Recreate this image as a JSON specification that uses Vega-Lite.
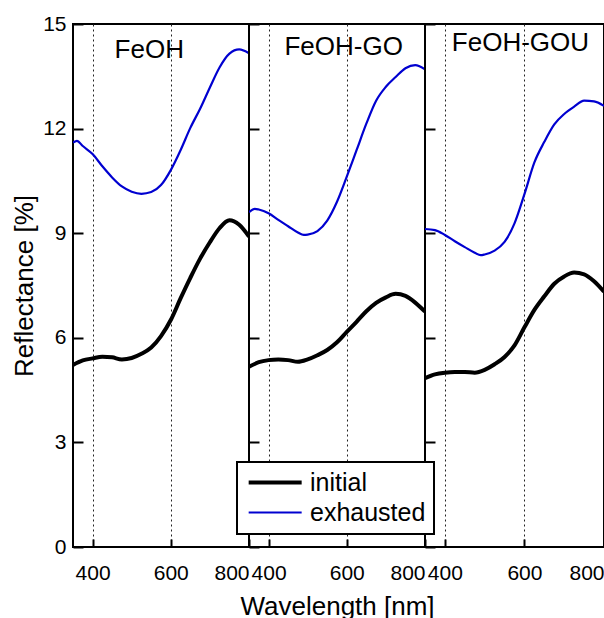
{
  "$schema": "https://vega.github.io/schema/vega-lite/v6.json",
  "padding": {"left": 10, "top": 12, "right": 0, "bottom": 0},
  "spacing": 0,
  "bounds": "flush",
  "config": {
    "font": "Liberation Sans",
    "view": {"stroke": "black", "strokeWidth": 2},
    "axis": {"labelFont": "Liberation Sans", "labelFontSize": 21, "labelColor": "black", "titleFont": "Liberation Sans", "titleFontSize": 26, "titleFontWeight": "normal", "titleColor": "black", "tickColor": "black", "tickWidth": 2, "domain": false, "labelOverlap": false},
    "legend": {"strokeWidth": 2}
  },
  "resolve": {"scale": {"y": "shared", "x": "independent", "color": "shared", "strokeWidth": "shared"}, "legend": {"color": "shared", "strokeWidth": "shared"}},
  "datasets": {
    "spectra": [
      {"panel": "FeOH", "series": "exhausted", "wl": 350, "r": 11.60},
      {"panel": "FeOH", "series": "exhausted", "wl": 360, "r": 11.65},
      {"panel": "FeOH", "series": "exhausted", "wl": 375, "r": 11.50},
      {"panel": "FeOH", "series": "exhausted", "wl": 400, "r": 11.27},
      {"panel": "FeOH", "series": "exhausted", "wl": 425, "r": 10.92},
      {"panel": "FeOH", "series": "exhausted", "wl": 450, "r": 10.60},
      {"panel": "FeOH", "series": "exhausted", "wl": 475, "r": 10.34},
      {"panel": "FeOH", "series": "exhausted", "wl": 500, "r": 10.19},
      {"panel": "FeOH", "series": "exhausted", "wl": 525, "r": 10.13},
      {"panel": "FeOH", "series": "exhausted", "wl": 550, "r": 10.18},
      {"panel": "FeOH", "series": "exhausted", "wl": 575, "r": 10.38},
      {"panel": "FeOH", "series": "exhausted", "wl": 600, "r": 10.81},
      {"panel": "FeOH", "series": "exhausted", "wl": 625, "r": 11.38},
      {"panel": "FeOH", "series": "exhausted", "wl": 650, "r": 12.02},
      {"panel": "FeOH", "series": "exhausted", "wl": 675, "r": 12.57},
      {"panel": "FeOH", "series": "exhausted", "wl": 700, "r": 13.18},
      {"panel": "FeOH", "series": "exhausted", "wl": 725, "r": 13.76},
      {"panel": "FeOH", "series": "exhausted", "wl": 750, "r": 14.15},
      {"panel": "FeOH", "series": "exhausted", "wl": 775, "r": 14.27},
      {"panel": "FeOH", "series": "exhausted", "wl": 800, "r": 14.16},
      {"panel": "FeOH", "series": "initial", "wl": 350, "r": 5.22},
      {"panel": "FeOH", "series": "initial", "wl": 375, "r": 5.35},
      {"panel": "FeOH", "series": "initial", "wl": 400, "r": 5.41},
      {"panel": "FeOH", "series": "initial", "wl": 425, "r": 5.46},
      {"panel": "FeOH", "series": "initial", "wl": 450, "r": 5.44},
      {"panel": "FeOH", "series": "initial", "wl": 475, "r": 5.38},
      {"panel": "FeOH", "series": "initial", "wl": 500, "r": 5.42},
      {"panel": "FeOH", "series": "initial", "wl": 525, "r": 5.54},
      {"panel": "FeOH", "series": "initial", "wl": 550, "r": 5.72},
      {"panel": "FeOH", "series": "initial", "wl": 575, "r": 6.05},
      {"panel": "FeOH", "series": "initial", "wl": 600, "r": 6.51},
      {"panel": "FeOH", "series": "initial", "wl": 625, "r": 7.13},
      {"panel": "FeOH", "series": "initial", "wl": 650, "r": 7.72},
      {"panel": "FeOH", "series": "initial", "wl": 675, "r": 8.27},
      {"panel": "FeOH", "series": "initial", "wl": 700, "r": 8.74},
      {"panel": "FeOH", "series": "initial", "wl": 725, "r": 9.15},
      {"panel": "FeOH", "series": "initial", "wl": 750, "r": 9.37},
      {"panel": "FeOH", "series": "initial", "wl": 775, "r": 9.24},
      {"panel": "FeOH", "series": "initial", "wl": 800, "r": 8.90},
      {"panel": "FeOH-GO", "series": "exhausted", "wl": 350, "r": 9.60},
      {"panel": "FeOH-GO", "series": "exhausted", "wl": 365, "r": 9.70},
      {"panel": "FeOH-GO", "series": "exhausted", "wl": 375, "r": 9.68},
      {"panel": "FeOH-GO", "series": "exhausted", "wl": 400, "r": 9.57},
      {"panel": "FeOH-GO", "series": "exhausted", "wl": 425, "r": 9.38},
      {"panel": "FeOH-GO", "series": "exhausted", "wl": 450, "r": 9.20},
      {"panel": "FeOH-GO", "series": "exhausted", "wl": 475, "r": 9.02},
      {"panel": "FeOH-GO", "series": "exhausted", "wl": 490, "r": 8.95},
      {"panel": "FeOH-GO", "series": "exhausted", "wl": 500, "r": 8.96},
      {"panel": "FeOH-GO", "series": "exhausted", "wl": 525, "r": 9.06},
      {"panel": "FeOH-GO", "series": "exhausted", "wl": 550, "r": 9.36},
      {"panel": "FeOH-GO", "series": "exhausted", "wl": 575, "r": 9.90},
      {"panel": "FeOH-GO", "series": "exhausted", "wl": 600, "r": 10.62},
      {"panel": "FeOH-GO", "series": "exhausted", "wl": 625, "r": 11.38},
      {"panel": "FeOH-GO", "series": "exhausted", "wl": 650, "r": 12.14},
      {"panel": "FeOH-GO", "series": "exhausted", "wl": 675, "r": 12.80},
      {"panel": "FeOH-GO", "series": "exhausted", "wl": 700, "r": 13.20},
      {"panel": "FeOH-GO", "series": "exhausted", "wl": 725, "r": 13.48},
      {"panel": "FeOH-GO", "series": "exhausted", "wl": 750, "r": 13.73},
      {"panel": "FeOH-GO", "series": "exhausted", "wl": 775, "r": 13.82},
      {"panel": "FeOH-GO", "series": "exhausted", "wl": 800, "r": 13.70},
      {"panel": "FeOH-GO", "series": "initial", "wl": 350, "r": 5.17},
      {"panel": "FeOH-GO", "series": "initial", "wl": 375, "r": 5.30},
      {"panel": "FeOH-GO", "series": "initial", "wl": 400, "r": 5.36},
      {"panel": "FeOH-GO", "series": "initial", "wl": 425, "r": 5.38},
      {"panel": "FeOH-GO", "series": "initial", "wl": 450, "r": 5.36},
      {"panel": "FeOH-GO", "series": "initial", "wl": 475, "r": 5.31},
      {"panel": "FeOH-GO", "series": "initial", "wl": 500, "r": 5.38},
      {"panel": "FeOH-GO", "series": "initial", "wl": 525, "r": 5.50},
      {"panel": "FeOH-GO", "series": "initial", "wl": 550, "r": 5.65},
      {"panel": "FeOH-GO", "series": "initial", "wl": 575, "r": 5.87},
      {"panel": "FeOH-GO", "series": "initial", "wl": 600, "r": 6.17},
      {"panel": "FeOH-GO", "series": "initial", "wl": 625, "r": 6.46},
      {"panel": "FeOH-GO", "series": "initial", "wl": 650, "r": 6.76},
      {"panel": "FeOH-GO", "series": "initial", "wl": 675, "r": 7.00},
      {"panel": "FeOH-GO", "series": "initial", "wl": 700, "r": 7.16},
      {"panel": "FeOH-GO", "series": "initial", "wl": 725, "r": 7.26},
      {"panel": "FeOH-GO", "series": "initial", "wl": 750, "r": 7.20},
      {"panel": "FeOH-GO", "series": "initial", "wl": 775, "r": 7.01},
      {"panel": "FeOH-GO", "series": "initial", "wl": 800, "r": 6.75},
      {"panel": "FeOH-GOU", "series": "exhausted", "wl": 350, "r": 9.12},
      {"panel": "FeOH-GOU", "series": "exhausted", "wl": 375, "r": 9.09},
      {"panel": "FeOH-GOU", "series": "exhausted", "wl": 400, "r": 8.95},
      {"panel": "FeOH-GOU", "series": "exhausted", "wl": 425, "r": 8.77},
      {"panel": "FeOH-GOU", "series": "exhausted", "wl": 450, "r": 8.60},
      {"panel": "FeOH-GOU", "series": "exhausted", "wl": 475, "r": 8.44},
      {"panel": "FeOH-GOU", "series": "exhausted", "wl": 490, "r": 8.37},
      {"panel": "FeOH-GOU", "series": "exhausted", "wl": 500, "r": 8.39},
      {"panel": "FeOH-GOU", "series": "exhausted", "wl": 525, "r": 8.50},
      {"panel": "FeOH-GOU", "series": "exhausted", "wl": 550, "r": 8.75},
      {"panel": "FeOH-GOU", "series": "exhausted", "wl": 575, "r": 9.28},
      {"panel": "FeOH-GOU", "series": "exhausted", "wl": 600, "r": 10.12},
      {"panel": "FeOH-GOU", "series": "exhausted", "wl": 625, "r": 11.03},
      {"panel": "FeOH-GOU", "series": "exhausted", "wl": 650, "r": 11.62},
      {"panel": "FeOH-GOU", "series": "exhausted", "wl": 675, "r": 12.12},
      {"panel": "FeOH-GOU", "series": "exhausted", "wl": 700, "r": 12.42},
      {"panel": "FeOH-GOU", "series": "exhausted", "wl": 725, "r": 12.63},
      {"panel": "FeOH-GOU", "series": "exhausted", "wl": 750, "r": 12.80},
      {"panel": "FeOH-GOU", "series": "exhausted", "wl": 775, "r": 12.78},
      {"panel": "FeOH-GOU", "series": "exhausted", "wl": 800, "r": 12.65},
      {"panel": "FeOH-GOU", "series": "initial", "wl": 350, "r": 4.84},
      {"panel": "FeOH-GOU", "series": "initial", "wl": 375, "r": 4.95},
      {"panel": "FeOH-GOU", "series": "initial", "wl": 400, "r": 5.00},
      {"panel": "FeOH-GOU", "series": "initial", "wl": 425, "r": 5.02},
      {"panel": "FeOH-GOU", "series": "initial", "wl": 450, "r": 5.02},
      {"panel": "FeOH-GOU", "series": "initial", "wl": 475, "r": 5.00},
      {"panel": "FeOH-GOU", "series": "initial", "wl": 500, "r": 5.08},
      {"panel": "FeOH-GOU", "series": "initial", "wl": 525, "r": 5.24},
      {"panel": "FeOH-GOU", "series": "initial", "wl": 550, "r": 5.45},
      {"panel": "FeOH-GOU", "series": "initial", "wl": 575, "r": 5.78},
      {"panel": "FeOH-GOU", "series": "initial", "wl": 600, "r": 6.30},
      {"panel": "FeOH-GOU", "series": "initial", "wl": 625, "r": 6.80},
      {"panel": "FeOH-GOU", "series": "initial", "wl": 650, "r": 7.19},
      {"panel": "FeOH-GOU", "series": "initial", "wl": 675, "r": 7.55},
      {"panel": "FeOH-GOU", "series": "initial", "wl": 700, "r": 7.76},
      {"panel": "FeOH-GOU", "series": "initial", "wl": 725, "r": 7.87},
      {"panel": "FeOH-GOU", "series": "initial", "wl": 750, "r": 7.82},
      {"panel": "FeOH-GOU", "series": "initial", "wl": 775, "r": 7.62},
      {"panel": "FeOH-GOU", "series": "initial", "wl": 800, "r": 7.32}
    ]
  },
  "hconcat": [
    {
      "width": 176, "height": 523,
      "layer": [
        {
          "data": {"name": "spectra"},
          "transform": [{"filter": "datum.panel === 'FeOH'"}],
          "mark": {"type": "line", "interpolate": "monotone", "clip": true},
          "encoding": {
            "x": {"field": "wl", "type": "quantitative", "scale": {"domain": [350, 800], "nice": false, "zero": false},
                  "axis": {"values": [400, 600, 800], "title": null, "grid": true, "gridDash": [2, 3], "gridColor": "#222222", "gridWidth": 1, "tickSize": -8, "labelPadding": 23, "labelFlush": true}},
            "y": {"field": "r", "type": "quantitative", "scale": {"domain": [0, 15], "nice": false},
                  "axis": {"values": [0, 3, 6, 9, 12, 15], "title": "Reflectance [%]", "tickSize": -10, "labelPadding": 17, "titlePadding": 5, "grid": false}},
            "color": {"field": "series", "type": "nominal", "scale": {"domain": ["initial", "exhausted"], "range": ["#000000", "#0000d0"]},
                      "legend": {"title": null, "orient": "none", "legendX": 164, "legendY": 438, "symbolType": "M-1,0L5,0", "symbolSize": 312, "labelFontSize": 25, "labelFont": "Liberation Sans", "labelColor": "black", "labelOffset": 40, "strokeColor": "black", "fillColor": "white", "padding": 8, "rowPadding": 4}},
            "strokeWidth": {"field": "series", "type": "ordinal", "scale": {"domain": ["initial", "exhausted"], "range": [4, 2.2]},
                      "legend": {"title": null, "orient": "none", "legendX": 164, "legendY": 438, "symbolType": "M-1,0L5,0", "symbolSize": 312, "labelFontSize": 25, "labelFont": "Liberation Sans", "labelColor": "black", "labelOffset": 40, "strokeColor": "black", "fillColor": "white", "padding": 8, "rowPadding": 4}}
          }
        },
        {
          "data": {"values": [{"panel": "FeOH"}]},
          "mark": {"type": "text", "fontSize": 26, "font": "Liberation Sans", "color": "black"},
          "encoding": {"text": {"field": "panel"}, "x": {"datum": 545}, "y": {"datum": 14.25}}
        }
      ]
    },
    {
      "width": 176, "height": 523,
      "layer": [
        {
          "data": {"name": "spectra"},
          "transform": [{"filter": "datum.panel === 'FeOH-GO'"}],
          "mark": {"type": "line", "interpolate": "monotone", "clip": true},
          "encoding": {
            "x": {"field": "wl", "type": "quantitative", "scale": {"domain": [350, 800], "nice": false, "zero": false},
                  "axis": {"values": [400, 600, 800], "title": "Wavelength [nm]", "grid": true, "gridDash": [2, 3], "gridColor": "#222222", "gridWidth": 1, "tickSize": -8, "labelPadding": 23, "labelFlush": true, "titlePadding": 10}},
            "y": {"field": "r", "type": "quantitative", "scale": {"domain": [0, 15], "nice": false},
                  "axis": {"values": [0, 3, 6, 9, 12, 15], "title": null, "labels": false, "tickSize": -10, "grid": false, "minExtent": 0, "maxExtent": 0}},
            "color": {"field": "series", "type": "nominal", "scale": {"domain": ["initial", "exhausted"], "range": ["#000000", "#0000d0"]}},
            "strokeWidth": {"field": "series", "type": "ordinal", "scale": {"domain": ["initial", "exhausted"], "range": [4, 2.2]}}
          }
        },
        {
          "data": {"values": [{"panel": "FeOH-GO"}]},
          "mark": {"type": "text", "fontSize": 26, "font": "Liberation Sans", "color": "black"},
          "encoding": {"text": {"field": "panel"}, "x": {"datum": 592}, "y": {"datum": 14.34}}
        }
      ]
    },
    {
      "width": 179, "height": 523,
      "layer": [
        {
          "data": {"name": "spectra"},
          "transform": [{"filter": "datum.panel === 'FeOH-GOU'"}],
          "mark": {"type": "line", "interpolate": "monotone", "clip": true},
          "encoding": {
            "x": {"field": "wl", "type": "quantitative", "scale": {"domain": [350, 800], "nice": false, "zero": false},
                  "axis": {"values": [400, 600, 800], "title": null, "grid": true, "gridDash": [2, 3], "gridColor": "#222222", "gridWidth": 1, "tickSize": -8, "labelPadding": 23, "labelFlush": true}},
            "y": {"field": "r", "type": "quantitative", "scale": {"domain": [0, 15], "nice": false},
                  "axis": {"values": [0, 3, 6, 9, 12, 15], "title": null, "labels": false, "tickSize": -10, "grid": false, "minExtent": 0, "maxExtent": 0}},
            "color": {"field": "series", "type": "nominal", "scale": {"domain": ["initial", "exhausted"], "range": ["#000000", "#0000d0"]}},
            "strokeWidth": {"field": "series", "type": "ordinal", "scale": {"domain": ["initial", "exhausted"], "range": [4, 2.2]}}
          }
        },
        {
          "data": {"values": [{"panel": "FeOH-GOU"}]},
          "mark": {"type": "text", "fontSize": 26, "font": "Liberation Sans", "color": "black"},
          "encoding": {"text": {"field": "panel"}, "x": {"datum": 590}, "y": {"datum": 14.45}}
        }
      ]
    }
  ]
}
